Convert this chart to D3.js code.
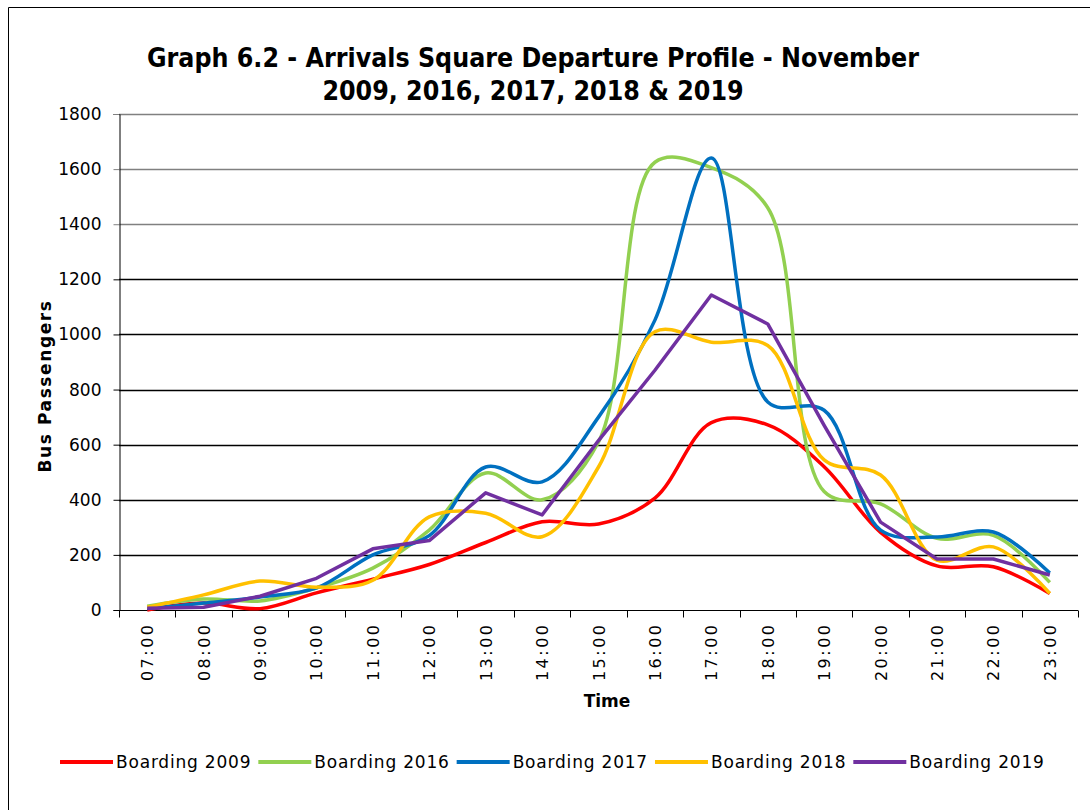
<!DOCTYPE html>
<html>
<head>
<meta charset="utf-8">
<script src="https://cdn.jsdelivr.net/npm/d3@7"></script>
<style>
  body { margin: 0; background: #fff; }
  svg text { font-family: "DejaVu Sans", Verdana, sans-serif; fill: #000; }
</style>
</head>
<body>
<div id="chart"></div>
<script>
// hours along the x axis
var times = ["07:00","08:00","09:00","10:00","11:00","12:00","13:00","14:00","15:00",
             "16:00","17:00","18:00","19:00","20:00","21:00","22:00","23:00"];

// boarding counts per hour
var boarding2009 = [0, 25, 5, 62, 112, 165, 245, 320, 312, 406, 680, 672, 520, 282, 160, 157, 60];
var boarding2016 = [14, 40, 33, 80, 152, 290, 497, 400, 610, 1625, 1605, 1460, 430, 385, 260, 271, 100];
var boarding2017 = [5, 25, 47, 80, 200, 270, 519, 465, 700, 1052, 1640, 755, 725, 290, 265, 283, 134];
var boarding2018 = [10, 55, 105, 83, 108, 338, 351, 266, 519, 1010, 972, 960, 545, 490, 181, 229, 60];
var boarding2019 = [6, 10, 50, 115, 222, 252, 425, 345, 615, 870, 1143, 1038, 670, 319, 185, 185, 127];

var yTicks = [0, 200, 400, 600, 800, 1000, 1200, 1400, 1600, 1800];

var series = [
    {name: "Boarding 2009", values: boarding2009, color: "#ff0000", smooth: true},
    {name: "Boarding 2016", values: boarding2016, color: "#92d050", smooth: true},
    {name: "Boarding 2017", values: boarding2017, color: "#0070c0", smooth: true},
    {name: "Boarding 2018", values: boarding2018, color: "#ffc000", smooth: true},
    {name: "Boarding 2019", values: boarding2019, color: "#7030a0", smooth: false}
];

var width = 1090,
    height = 810;
var plot = {left: 119, right: 1078, top: 114, bottom: 610};

var svg = d3.select("#chart")
    .append("svg")
    .attr("width", width)
    .attr("height", height);

// outer chart frame (only top and left edges show in the original)
svg.append("path")
    .attr("d", "M8.5," + height + "V7.5H" + width)
    .attr("fill", "none")
    .attr("stroke", "#000")
    .attr("stroke-width", 1);

var x = d3.scaleBand()
    .domain(times)
    .range([plot.left, plot.right])
    .padding(0);

var y = d3.scaleLinear()
    .domain([0, 1800])
    .range([plot.bottom, plot.top]);

// gridlines - the top three come out grey
svg.append("g")
    .selectAll("line")
    .data(yTicks.filter(function(d){ return d > 0; }))
    .enter()
    .append("line")
    .attr("x1", plot.left)
    .attr("x2", plot.right)
    .attr("y1", function(d){ return Math.round(y(d)) + 0.5; })
    .attr("y2", function(d){ return Math.round(y(d)) + 0.5; })
    .attr("stroke", function(d){ return d >= 1400 ? "#808080" : "#000"; })
    .attr("stroke-width", 1.3);

// y axis
var yAxis = svg.append("g")
    .attr("transform", "translate(" + (plot.left + 0.5) + ",0)")
    .call(d3.axisLeft(y).tickValues(yTicks).tickSize(6).tickPadding(12).tickFormat(d3.format("d")));
yAxis.select(".domain").attr("stroke", "#000");
yAxis.selectAll(".tick line").attr("stroke", function(d){ return d >= 1400 ? "#808080" : "#000"; });
yAxis.selectAll("text")
    .style("font-size", "17px")
    .attr("fill", "#000");

// x axis, ticks between categories
var xAxis = svg.append("g")
    .attr("transform", "translate(0," + (plot.bottom + 0.5) + ")");
xAxis.append("line")
    .attr("x1", plot.left)
    .attr("x2", plot.right)
    .attr("stroke", "#000");
xAxis.selectAll(".sep")
    .data(times.concat(["end"]))
    .enter()
    .append("line")
    .attr("class", "sep")
    .attr("x1", function(d, i){ return Math.round(plot.left + i * x.bandwidth()) + 0.5; })
    .attr("x2", function(d, i){ return Math.round(plot.left + i * x.bandwidth()) + 0.5; })
    .attr("y1", 0)
    .attr("y2", 7)
    .attr("stroke", "#000");
xAxis.selectAll(".lbl")
    .data(times)
    .enter()
    .append("text")
    .attr("class", "lbl")
    .attr("transform", function(d){
        return "translate(" + (x(d) + x.bandwidth() / 2 + 6) + ",12) rotate(-90)";
    })
    .attr("text-anchor", "end")
    .style("font-size", "16px")
    .style("letter-spacing", "2.5px")
    .text(function(d){ return d; });

// axis titles
svg.append("text")
    .attr("transform", "translate(51," + 386 + ") rotate(-90)")
    .attr("text-anchor", "middle")
    .style("font-size", "17px")
    .style("font-weight", "bold")
    .style("letter-spacing", "1.6px")
    .text("Bus Passengers");

svg.append("text")
    .attr("x", 607)
    .attr("y", 707)
    .attr("text-anchor", "middle")
    .style("font-size", "17px")
    .style("font-weight", "bold")
    .text("Time");

// title
var title = svg.append("text")
    .attr("text-anchor", "middle")
    .style("font-size", "26.5px")
    .style("font-weight", "bold")
    .style("font-family", "'DejaVu Sans Condensed', 'DejaVu Sans', sans-serif");
title.append("tspan").attr("x", 533).attr("y", 67)
    .text("Graph 6.2 - Arrivals Square Departure Profile - November");
title.append("tspan").attr("x", 533).attr("y", 100)
    .text("2009, 2016, 2017, 2018 & 2019");

// the lines - centripetal smoothing gets closer to the spreadsheet curves
var lineSmooth = d3.line()
    .x(function(d, i){ return x(times[i]) + x.bandwidth() / 2; })
    .y(function(d){ return y(d); })
    .curve(d3.curveCatmullRom.alpha(0.5));
var lineStraight = d3.line()
    .x(function(d, i){ return x(times[i]) + x.bandwidth() / 2; })
    .y(function(d){ return y(d); });

svg.append("g")
    .selectAll("path")
    .data(series)
    .enter()
    .append("path")
    .attr("d", function(s){ return s.smooth ? lineSmooth(s.values) : lineStraight(s.values); })
    .attr("fill", "none")
    .attr("stroke", function(s){ return s.color; })
    .attr("stroke-width", 3.5)
    .attr("stroke-linejoin", "round");

// LEGEND
var legend = svg.append("g").attr("class", "legend");
var lx = 60;
series.forEach(function(s) {
    legend.append("line")
        .attr("x1", lx)
        .attr("x2", lx + 53)
        .attr("y1", 762)
        .attr("y2", 762)
        .attr("stroke", s.color)
        .attr("stroke-width", 4);
    var t = legend.append("text")
        .attr("x", lx + 56)
        .attr("y", 768)
        .style("font-size", "17px")
        .style("letter-spacing", "0.8px")
        .text(s.name);
    lx += 56 + t.node().getComputedTextLength() + 7;
});
</script>
</body>
</html>
